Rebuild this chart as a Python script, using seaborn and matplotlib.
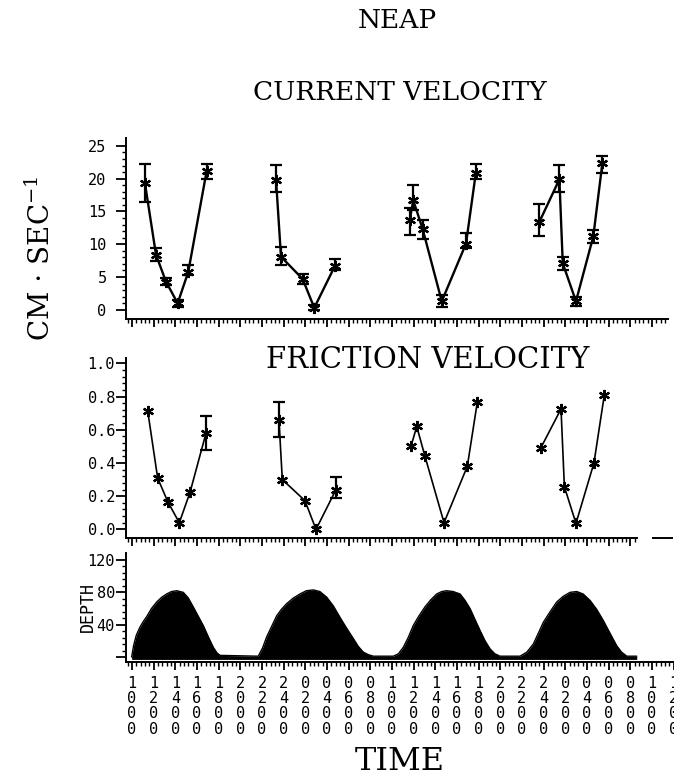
import numpy as np
import pandas as pd
import matplotlib
matplotlib.use("Agg")
import matplotlib.pyplot as plt
import seaborn as sns
from matplotlib.ticker import FixedLocator

# ---------------- data ----------------
# Current velocity (cm/s), four tidal-cycle segments
cv_seg = [1] * 6 + [2] * 5 + [3] * 6 + [4] * 6
cv_time = [11.20, 12.22, 13.14, 14.22, 15.20, 16.90,
           23.30, 23.76, 25.76, 26.83, 28.74,
           35.64, 35.97, 36.84, 38.60, 40.84, 41.74,
           47.61, 49.46, 49.77, 50.99, 52.59, 53.43]
cv_val = [19.3, 8.4, 4.3, 1.0, 5.8, 21.2,
          19.8, 8.1, 4.7, 0.3, 6.7,
          13.7, 16.7, 12.3, 1.3, 10.1, 20.8,
          13.4, 19.9, 7.1, 1.3, 11.2, 22.4]
cv_hi = [22.3, 9.4, 4.8, 1.5, 6.8, 22.3,
         22.1, 9.6, 5.5, 0.7, 7.7,
         15.5, 19.1, 13.7, 2.2, 11.7, 22.2,
         16.1, 22.1, 8.1, 2.0, 12.2, 23.5]
cv_lo = [16.5, 7.4, 3.8, 0.5, 5.3, 20.0,
         18.0, 6.8, 4.0, 0.0, 6.1,
         11.4, 15.2, 10.8, 0.5, 9.4, 19.9,
         11.2, 18.0, 6.1, 0.6, 10.2, 20.8]

# Friction velocity (cm/s)
fv_seg = [1] * 6 + [2] * 5 + [3] * 6 + [4] * 6
fv_time = [11.45, 12.37, 13.30, 14.37, 15.36, 16.83,
           23.57, 23.88, 25.97, 26.99, 28.84,
           35.76, 36.29, 37.05, 38.81, 40.96, 41.88,
           47.74, 49.61, 49.92, 50.99, 52.65, 53.61]
fv_val = [0.715, 0.31, 0.167, 0.04, 0.223, 0.578,
          0.66, 0.30, 0.173, 0.0, 0.24,
          0.50, 0.62, 0.44, 0.04, 0.38, 0.765,
          0.49, 0.725, 0.257, 0.036, 0.40, 0.81]
fv_err_idx = [5, 6, 10]
fv_err_hi = [0.68, 0.77, 0.317]
fv_err_lo = [0.48, 0.555, 0.187]

# Water depth (cm)
dep_time = [9.97, 10.15, 10.40, 10.74, 11.05, 11.36, 11.80, 12.28, 12.75, 13.20, 13.65, 14.13,
            14.74, 15.20, 15.66, 16.10, 16.58, 17.05, 17.51, 17.85, 18.13,
            21.66, 22.05, 22.44, 22.90, 23.36, 23.80, 24.28, 24.90, 25.51, 26.10, 26.74,
            27.35, 27.98, 28.60, 29.21, 29.80, 30.43, 30.90, 31.36, 31.80, 32.28,
            34.13, 34.60, 35.05, 35.50, 35.97, 36.50, 37.05, 37.60, 38.13, 38.60, 39.05,
            39.65, 40.29, 40.75, 41.21, 41.65, 42.13, 42.60, 43.06, 43.50, 43.98,
            45.83, 46.45, 47.05, 47.50, 47.98, 48.60, 49.21, 49.80, 50.44, 51.06,
            51.65, 52.29, 52.90, 53.52, 54.15, 54.75, 55.20, 55.68, 56.60]
dep_val = [0, 14, 27, 37, 44, 50, 60, 68, 74, 78, 81, 82,
           80, 73, 62, 51, 39, 25, 12, 5, 2,
           1, 11, 25, 38, 51, 59, 66, 73, 78, 82, 83,
           81, 74, 63, 49, 36, 23, 13, 6, 3, 1,
           1, 4, 12, 24, 39, 51, 62, 71, 78, 81, 82,
           81, 78, 70, 60, 47, 33, 20, 10, 4, 1,
           1, 6, 16, 29, 43, 56, 68, 75, 80, 81,
           78, 70, 59, 45, 29, 14, 6, 1, 1]

# Time axis labels (every 2 h starting 10:00)
tick_times = list(range(10, 62, 2))
tick_labels = ["1000", "1200", "1400", "1600", "1800", "2000", "2200", "2400",
               "0200", "0400", "0600", "0800",
               "1000", "1200", "1400", "1600", "1800", "2000", "2200", "2400",
               "0200", "0400", "0600", "0800",
               "1000", "1200"]

# ---------------- style ----------------
sns.set_style("ticks")
plt.rcParams["font.family"] = ["DejaVu Sans Mono", "DejaVu Sans"]
plt.rcParams["mathtext.fontset"] = "dejavuserif"
plt.rcParams["axes.linewidth"] = 1.4
plt.rcParams["text.color"] = "black"
plt.rcParams["axes.labelcolor"] = "black"
plt.rcParams["axes.edgecolor"] = "black"
plt.rcParams["xtick.color"] = "black"
plt.rcParams["ytick.color"] = "black"
plt.rcParams["xtick.labelcolor"] = "black"
plt.rcParams["ytick.labelcolor"] = "black"

W, H = 674, 778
fig = plt.figure(figsize=(W / 100, H / 100), dpi=100)


def add_ax(l, t, r, b):
    return fig.add_axes([l / W, 1 - b / H, (r - l) / W, (b - t) / H])


ax1 = add_ax(126, 138, 674, 319)
ax2 = add_ax(126, 358, 674, 538)
ax3 = add_ax(126, 553, 674, 662)

XL = (9.45, 60.04)
ASTER = (6, 2, 0)

# Current velocity
df_cv = pd.DataFrame({"time": cv_time, "vel": cv_val, "seg": cv_seg})
sns.lineplot(data=df_cv, x="time", y="vel", units="seg", estimator=None,
             color="black", lw=1.7, marker=ASTER, markersize=8,
             markeredgewidth=1.6, markeredgecolor="black", legend=False, ax=ax1)
v = np.array(cv_val)
ax1.errorbar(cv_time, cv_val, yerr=[v - np.array(cv_lo), np.array(cv_hi) - v],
             fmt="none", ecolor="black", elinewidth=1.6, capsize=4, capthick=1.6)

# Friction velocity
df_fv = pd.DataFrame({"time": fv_time, "vel": fv_val, "seg": fv_seg})
sns.lineplot(data=df_fv, x="time", y="vel", units="seg", estimator=None,
             color="black", lw=1.2, marker=ASTER, markersize=8,
             markeredgewidth=1.6, markeredgecolor="black", legend=False, ax=ax2)
et = [fv_time[i] for i in fv_err_idx]
ev = np.array([fv_val[i] for i in fv_err_idx])
ax2.errorbar(et, ev, yerr=[ev - np.array(fv_err_lo), np.array(fv_err_hi) - ev],
             fmt="none", ecolor="black", elinewidth=1.6, capsize=4, capthick=1.6)

# Depth
sns.lineplot(x=dep_time, y=dep_val, color="black", lw=1, ax=ax3)
ax3.fill_between(dep_time, -3, dep_val, color="black", lw=0)

# ---------------- axes ----------------
def t_of(px):
    return 10 + (px - 132) / 10.83


for ax in (ax1, ax2, ax3):
    ax.set_xlim(*XL)
    ax.set_xlabel("")
    ax.set_ylabel("")
    ax.patch.set_alpha(0)
    for s in ("top", "right"):
        ax.spines[s].set_visible(False)
    ax.tick_params(axis="both", which="major", direction="out", length=7,
                   width=1.3, labelsize=11)
    ax.tick_params(axis="both", which="minor", direction="out", length=3, width=1.0)
    ax.tick_params(axis="x", which="major", length=6)

ax1_end = t_of(668)
ax2_end = t_of(637)
ax1.spines["bottom"].set_bounds(XL[0], ax1_end)
ax2.spines["bottom"].set_bounds(XL[0], ax2_end)
ax1.xaxis.set_major_locator(FixedLocator([t for t in tick_times if t <= ax1_end]))
ax2.xaxis.set_major_locator(FixedLocator([t for t in tick_times if t <= ax2_end]))
ax3.xaxis.set_major_locator(FixedLocator(tick_times))
minor = np.arange(9.6, 60.05, 0.4)
ax1.xaxis.set_minor_locator(FixedLocator([m for m in minor if m <= ax1_end]))
ax2.xaxis.set_minor_locator(FixedLocator([m for m in minor if m <= ax2_end]))
ax3.xaxis.set_minor_locator(FixedLocator(minor))
ax1.set_xticklabels([])
ax2.set_xticklabels([])
ax3.set_xticklabels(["\n".join(lbl) for lbl in tick_labels], fontsize=11,
                    linespacing=1.02, va="top")
ax3.tick_params(axis="x", which="major", pad=4)

ax2.plot([t_of(652), t_of(673)], [-0.052, -0.052], color="black", lw=1.4,
         clip_on=False, solid_capstyle="butt")

ax1.set_ylim(-1.4, 26.2)
ax1.set_yticks([0, 5, 10, 15, 20, 25])
ax1.yaxis.set_minor_locator(FixedLocator(np.arange(0, 26, 1)))
ax1.tick_params(axis="y", which="major", pad=7)

ax2.set_ylim(-0.052, 1.032)
ax2.set_yticks([0.0, 0.2, 0.4, 0.6, 0.8, 1.0])
ax2.set_yticklabels(["0.0", "0.2", "0.4", "0.6", "0.8", "1.0"])
ax2.yaxis.set_minor_locator(FixedLocator(np.arange(0, 1.01, 0.04)))
ax2.tick_params(axis="y", which="major", pad=1)

ax3.set_ylim(-6.2, 128.7)
ax3.set_yticks([0, 40, 80, 120])
ax3.set_yticklabels(["", "40", "80", "120"])
ax3.yaxis.set_minor_locator(FixedLocator(np.arange(0, 121, 8)))
ax3.tick_params(axis="y", which="major", pad=1)

# ---------------- texts ----------------
serif = ["DejaVu Serif"]
fig.text(397 / W, 1 - 21 / H, "NEAP", ha="center", va="center",
         family=serif, fontsize=19)
fig.text(400 / W, 1 - 93 / H, "CURRENT VELOCITY", ha="center", va="center",
         family=serif, fontsize=19)
fig.text(428 / W, 1 - 360 / H, "FRICTION VELOCITY", ha="center", va="center",
         family=serif, fontsize=21)
fig.text(400 / W, 1 - 761 / H, "TIME", ha="center", va="center",
         family=serif, fontsize=23)
fig.text(41 / W, 1 - 258 / H, r"CM $\cdot$ SEC$^{-1}$", ha="center", va="center",
         rotation=90, family=serif, fontsize=20)
fig.text(88 / W, 1 - 607 / H, "DEPTH", ha="center", va="center",
         rotation=90, fontsize=12)

fig.savefig("out.png", dpi=100)
